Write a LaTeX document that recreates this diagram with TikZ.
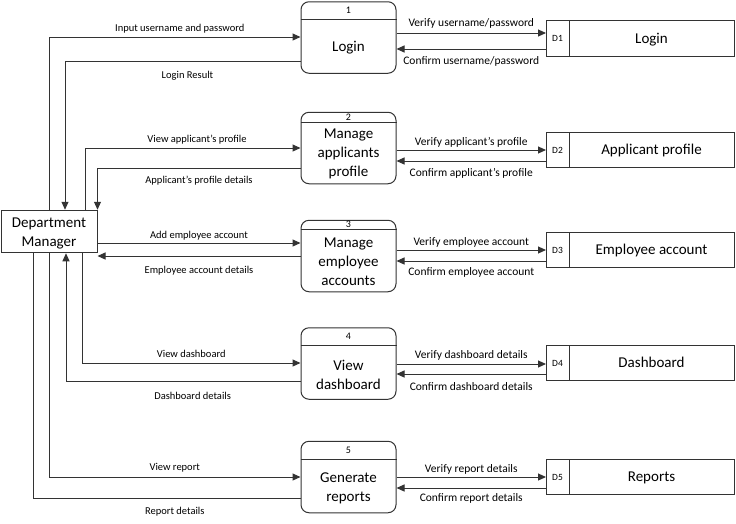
\documentclass[tikz,border=0pt]{standalone}
\usepackage{fontspec}
\setmainfont{Carlito}
\usetikzlibrary{arrows.meta,positioning}
\tikzset{
  pline/.style={draw=black!80, line width=1pt},
  flow/.style={pline, -{Triangle[length=8pt,width=7pt]}},
  proc/.style={pline, rounded corners=8pt, minimum width=95pt, minimum height=71.5pt, inner sep=0pt},
  ptext/.style={font=\fontsize{15}{19}\selectfont, align=center, inner sep=0pt},
  pnum/.style={font=\fontsize{10}{12}\selectfont, inner sep=0pt},
  ent/.style={pline, minimum width=96pt, minimum height=42.5pt, align=center, inner sep=0pt, font=\fontsize{15}{19}\selectfont},
  storeid/.style={pline, minimum width=23pt, minimum height=35.5pt, inner sep=0pt, outer sep=0pt, font=\fontsize{9.5}{11}\selectfont},
  store/.style={pline, minimum width=165pt, minimum height=35.5pt, inner sep=0pt, outer sep=0pt, font=\fontsize{15}{17}\selectfont},
  lbl/.style={font=\fontsize{10.5}{12}\selectfont, text height=7pt, text depth=2pt, inner sep=1pt},
  rlbl/.style={font=\fontsize{11.5}{13}\selectfont, text height=8pt, text depth=2.5pt, inner sep=1pt}
}
\begin{document}
\begin{tikzpicture}[x=1pt, y=-1pt]
  \useasboundingbox (0,0) rectangle (736,523);
  % external entity
  \node[ent] (dm) at (49,231.5) {};
  \node[ptext] (dmt) at (49,233.5) {Department\\Manager};
  % processes
  \node[proc] (p1) at (348.5,37.5) {};
  \draw[pline] (p1.west |- 0,19) -- (p1.east |- 0,19);
  \node[pnum] (n1) at (348.5,10.5) {1};
  \node[ptext] (t1) at (348.5,48) {Login};
  \node[proc] (p2) at (348.5,148) {};
  \draw[pline] (p2.west |- 0,122) -- (p2.east |- 0,122);
  \node[pnum] (n2) at (348.5,117) {2};
  \node[ptext] (t2) at (348.5,154) {Manage\\applicants\\profile};
  \node[proc] (p3) at (348.5,256) {};
  \draw[pline] (p3.west |- 0,229) -- (p3.east |- 0,229);
  \node[pnum] (n3) at (348.5,224.5) {3};
  \node[ptext] (t3) at (348.5,262) {Manage\\employee\\accounts};
  \node[proc] (p4) at (348.5,363.5) {};
  \draw[pline] (p4.west |- 0,345) -- (p4.east |- 0,345);
  \node[pnum] (n4) at (348.5,336.5) {4};
  \node[ptext] (t4) at (348.5,374.5) {View\\dashboard};
  \node[proc] (p5) at (348.5,477) {};
  \draw[pline] (p5.west |- 0,459) -- (p5.east |- 0,459);
  \node[pnum] (n5) at (348.5,450.5) {5};
  \node[ptext] (t5) at (348.5,488) {Generate\\reports};
  % data stores
  \node[storeid] (d1) at (557.5,38.5) {D1};
  \node[store, right=0pt of d1, text depth=1pt] (s1) {Login};
  \node[storeid] (d2) at (557.5,150) {D2};
  \node[store, right=0pt of d2, text depth=1pt] (s2) {Applicant profile};
  \node[storeid] (d3) at (557.5,250) {D3};
  \node[store, right=0pt of d3, text depth=1pt] (s3) {Employee account};
  \node[storeid] (d4) at (557.5,363) {D4};
  \node[store, right=0pt of d4, text depth=1pt] (s4) {Dashboard};
  \node[storeid] (d5) at (557.5,477) {D5};
  \node[store, right=0pt of d5, text depth=1pt] (s5) {Reports};
  % manager <-> processes
  \draw[flow] (dm.north) |- (p1.west |- 0,37)
    node[lbl, pos=0.76, above=2.5pt] {Input username and password};
  \draw[flow] (p1.west |- 0,61) -| (dm.north -| 65,0)
    node[lbl, pos=0.24, below=8.5pt] {Login Result};
  \draw[flow] (dm.north -| 85,0) |- (p2.west |- 0,148)
    node[lbl, pos=0.76, above=2.5pt] {View applicant’s profile};
  \draw[flow] (p2.west |- 0,168) -| (dm.north east)
    node[lbl, pos=0.25, below=6.5pt] {Applicant’s profile details};
  \draw[flow] (dm.east |- 0,243) -- (p3.west |- 0,243)
    node[lbl, midway, above=1pt] {Add employee account};
  \draw[flow] (p3.west |- 0,256) -- (dm.east |- 0,256)
    node[lbl, midway, below=8.5pt] {Employee account details};
  \draw[flow] (dm.south -| 82,0) |- (p4.west |- 0,363)
    node[lbl, pos=0.75, above=2pt] {View dashboard};
  \draw[flow] (p4.west |- 0,381) -| (dm.south -| 66,0)
    node[lbl, pos=0.23, below=9.5pt] {Dashboard details};
  \draw[flow] (dm.south) |- (p5.west |- 0,477)
    node[lbl, pos=0.75, above=3pt] {View report};
  \draw[pline] (p5.west |- 0,498) -| (dm.south -| 33,0)
    node[lbl, pos=0.235, below=7.5pt] {Report details};
  % processes <-> data stores
  \draw[flow] (p1.east |- 0,33) -- (d1.west |- 0,33)
    node[rlbl, midway, above=2.5pt] {Verify username/password};
  \draw[flow] (d1.west |- 0,49) -- (p1.east |- 0,49)
    node[rlbl, midway, below=5.5pt] {Confirm username/password};
  \draw[flow] (p2.east |- 0,150) -- (d2.west |- 0,150)
    node[rlbl, midway, above=1pt] {Verify applicant’s profile};
  \draw[flow] (d2.west |- 0,161) -- (p2.east |- 0,161)
    node[rlbl, midway, below=5.5pt] {Confirm applicant’s profile};
  \draw[flow] (p3.east |- 0,250) -- (d3.west |- 0,250)
    node[rlbl, midway, above=1pt] {Verify employee account};
  \draw[flow] (d3.west |- 0,261) -- (p3.east |- 0,261)
    node[rlbl, midway, below=4.5pt] {Confirm employee account};
  \draw[flow] (p4.east |- 0,364) -- (d4.west |- 0,364)
    node[rlbl, midway, above=2pt] {Verify dashboard details};
  \draw[flow] (d4.west |- 0,374) -- (p4.east |- 0,374)
    node[rlbl, midway, below=6.5pt] {Confirm dashboard details};
  \draw[flow] (p5.east |- 0,477) -- (d5.west |- 0,477)
    node[rlbl, midway, above=1pt] {Verify report details};
  \draw[flow] (d5.west |- 0,488) -- (p5.east |- 0,488)
    node[rlbl, midway, below=4pt] {Confirm report details};
\end{tikzpicture}
\end{document}
